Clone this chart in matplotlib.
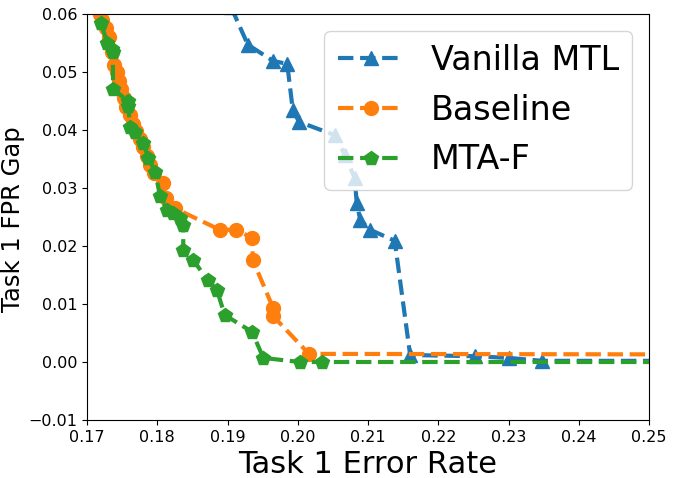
import matplotlib
matplotlib.use("Agg")
import matplotlib.pyplot as plt

# Vanilla MTL
vanilla_x = [0.1905, 0.1929, 0.1965, 0.1985, 0.1993, 0.2002, 0.2053, 0.2067, 0.2081,
             0.2084, 0.2089, 0.2103, 0.2138, 0.2160, 0.2252, 0.2301, 0.2348, 0.2600]
vanilla_y = [0.0612, 0.0547, 0.0519, 0.0514, 0.0434, 0.0414, 0.0391, 0.0357, 0.0317,
             0.0274, 0.0245, 0.0228, 0.0209, 0.0012, 0.0010, 0.0007, 0.0002, 0.0002]

# Baseline
baseline_x = [0.1718, 0.1722, 0.1727, 0.1732, 0.1736, 0.1738, 0.1742, 0.1745, 0.1748,
              0.1752, 0.1756, 0.1761, 0.1765, 0.1770, 0.1775, 0.1780, 0.1785, 0.1790,
              0.1795, 0.1808, 0.1812, 0.1825, 0.1889, 0.1912, 0.1935, 0.1936, 0.1965,
              0.1965, 0.2016, 0.2600]
baseline_y = [0.0600, 0.0590, 0.0575, 0.0560, 0.0535, 0.0512, 0.0500, 0.0485, 0.0470,
              0.0455, 0.0440, 0.0426, 0.0410, 0.0398, 0.0385, 0.0370, 0.0355, 0.0340,
              0.0325, 0.0309, 0.0282, 0.0265, 0.0228, 0.0228, 0.0214, 0.0176, 0.0093,
              0.0079, 0.0014, 0.0013]

# MTA-F
mtaf_x = [0.1720, 0.1729, 0.1735, 0.1737, 0.1737, 0.1758, 0.1759, 0.1761, 0.1768,
          0.1780, 0.1787, 0.1797, 0.1804, 0.1814, 0.1822, 0.1832, 0.1837, 0.1837,
          0.1851, 0.1872, 0.1885, 0.1896, 0.1935, 0.1951, 0.2003, 0.2035, 0.2600]
mtaf_y = [0.0584, 0.0550, 0.0540, 0.0534, 0.0471, 0.0450, 0.0442, 0.0405, 0.0397,
          0.0378, 0.0352, 0.0328, 0.0286, 0.0262, 0.0257, 0.0248, 0.0236, 0.0193,
          0.0176, 0.0141, 0.0124, 0.0081, 0.0052, 0.0007, 0.0000, 0.0000, 0.0000]

x_ticks = [0.17, 0.18, 0.19, 0.20, 0.21, 0.22, 0.23, 0.24, 0.25]
y_ticks = [-0.01, 0.00, 0.01, 0.02, 0.03, 0.04, 0.05, 0.06]

fig = plt.figure(figsize=(6.74, 4.78), dpi=100)
ax = fig.add_axes([87 / 674, 58 / 478, 562 / 674, 406 / 478])

ax.plot(vanilla_x, vanilla_y, "--", marker="^", color="#1f77b4", lw=3, markersize=10, label="Vanilla MTL")
ax.plot(baseline_x, baseline_y, "--", marker="o", color="#ff7f0e", lw=3, markersize=10, label="Baseline")
ax.plot(mtaf_x, mtaf_y, "--", marker="p", color="#2ca02c", lw=3, markersize=10, label="MTA-F")

ax.set_xlim(0.17, 0.25)
ax.set_ylim(-0.01, 0.06)
ax.set_xticks(x_ticks)
ax.set_yticks(y_ticks)
ax.set_xticklabels([f"{t:.2f}" for t in x_ticks])
ax.set_yticklabels([f"{t:.2f}".replace("-", "\u2212") for t in y_ticks])
ax.tick_params(labelsize=11.5)

ax.set_xlabel("Task 1 Error Rate", fontsize=22)
ax.set_ylabel("Task 1 FPR Gap", fontsize=17.5)
ax.yaxis.set_label_coords(-0.110, 0.494)
ax.legend(loc="upper right", fontsize=24)

fig.savefig("out.png", dpi=100)
